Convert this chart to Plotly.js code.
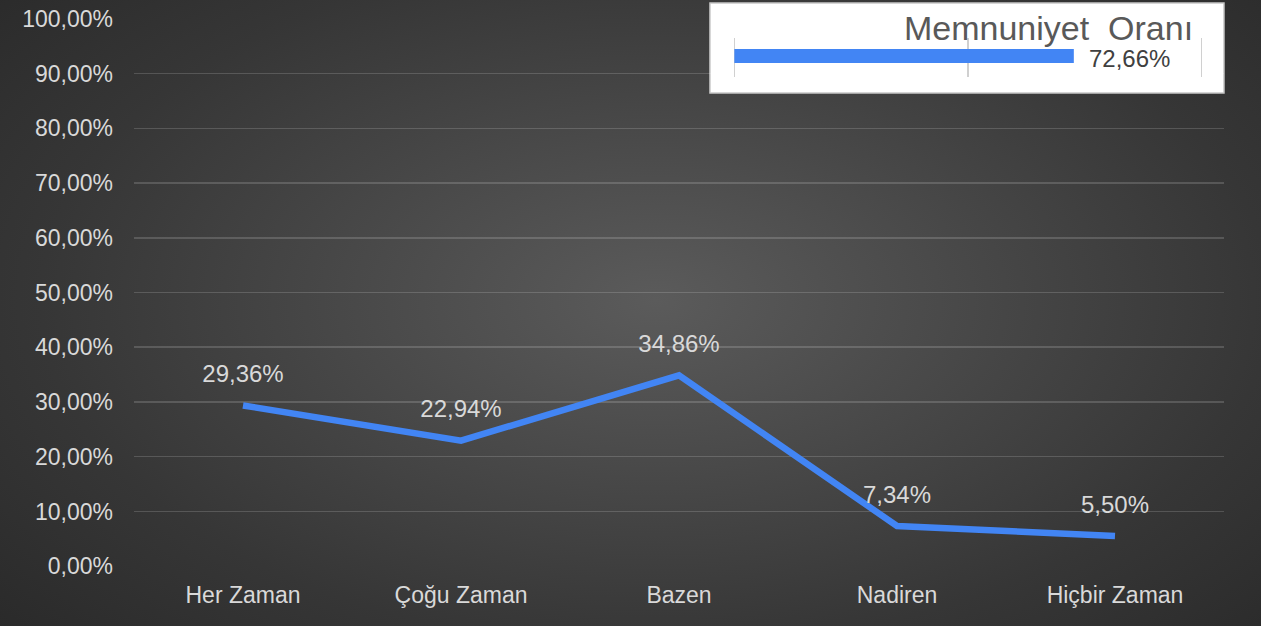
<!DOCTYPE html>
<html>
<head>
<meta charset="utf-8">
<script src="https://cdn.plot.ly/plotly-3.0.1.min.js"></script>
<style>
  html, body { margin: 0; padding: 0; }
  #chart {
    width: 1261px; height: 626px;
    background: radial-gradient(ellipse 75% 85% at 52% 48%, #5b5b5b 0%, #4a4a4a 30%, #363636 65%, #272727 100%);
  }
</style>
</head>
<body>
<div id="chart"></div>
<script>
const categories = ['Her Zaman', 'Çoğu Zaman', 'Bazen', 'Nadiren', 'Hiçbir Zaman'];
const shares = [0.2936, 0.2294, 0.3486, 0.0734, 0.0550];
const satisfactionLabel = 'Memnuniyet Oranı';
const satisfactionValue = 0.7266;

const FONT = '"Liberation Sans", Arial, sans-serif';
const BLUE = '#4285f4';
const TXT = '#d9d9d9';

const fmtPct = v => (v * 100).toFixed(2).replace('.', ',') + '%';

const traces = [
  {
    type: 'scatter',
    mode: 'lines+markers+text',
    x: categories,
    y: shares,
    xaxis: 'x', yaxis: 'y',
    line: { color: BLUE, width: 6.5 },
    marker: { size: 26, color: 'rgba(0,0,0,0)' },
    text: shares.map(fmtPct),
    textposition: 'top center',
    textfont: { family: FONT, size: 24, color: TXT },
    hoverinfo: 'skip',
    showlegend: false,
    cliponaxis: false
  },
  {
    type: 'bar',
    orientation: 'h',
    x: [satisfactionValue],
    y: [0],
    xaxis: 'x2', yaxis: 'y2',
    width: 0.36,
    marker: { color: BLUE },
    hoverinfo: 'skip',
    showlegend: false
  }
];

const layout = {
  width: 1261, height: 626,
  margin: { l: 134, r: 37, t: 18, b: 59 },
  paper_bgcolor: 'rgba(0,0,0,0)',
  plot_bgcolor: 'rgba(0,0,0,0)',
  separators: ',.',
  font: { family: FONT, color: TXT, size: 23 },
  showlegend: false,
  xaxis: {
    type: 'category',
    range: [-0.5, 4.5],
    showgrid: false, zeroline: false, showline: false,
    ticks: '',
    ticklabelstandoff: 12,
    tickfont: { family: FONT, size: 23, color: TXT },
    fixedrange: true
  },
  yaxis: {
    range: [-0.0015, 1.0015],
    tick0: 0,
    dtick: 0.1,
    tickformat: '.2%',
    showgrid: true,
    gridcolor: 'rgba(255,255,255,0.16)',
    gridwidth: 1.5,
    zeroline: false, showline: false,
    ticks: '',
    ticklabelstandoff: 20,
    tickfont: { family: FONT, size: 23, color: TXT },
    fixedrange: true
  },
  xaxis2: {
    domain: [0.5495, 0.9807],
    anchor: 'y2',
    range: [-0.003, 1.003],
    tick0: 0, dtick: 0.5,
    showgrid: true, gridcolor: '#d0d0d0', gridwidth: 1.5,
    zeroline: false, showline: false,
    showticklabels: false, ticks: '',
    fixedrange: true
  },
  yaxis2: {
    domain: [0.8925, 0.9636],
    anchor: 'x2',
    range: [-0.54, 0.46],
    showgrid: false, zeroline: false, showline: false,
    showticklabels: false, ticks: '',
    fixedrange: true
  },
  shapes: [
    {
      type: 'rect', layer: 'below',
      xref: 'x2 domain', yref: 'y2 domain',
      x0: -0.0489, x1: 1.0447, y0: -0.41, y1: 1.897,
      fillcolor: '#ffffff',
      line: { color: '#c8c8c8', width: 1.5 }
    }
  ],
  annotations: [
    {
      xref: 'x2 domain', yref: 'y2 domain',
      x: 0.983, y: 1.25,
      xanchor: 'right', yanchor: 'middle',
      text: satisfactionLabel.replace(' ', '\u00a0\u00a0'),
      showarrow: false,
      font: { family: FONT, size: 34, color: '#595959' }
    },
    {
      xref: 'x2', yref: 'y2',
      x: satisfactionValue, y: 0,
      xanchor: 'left', yanchor: 'middle',
      xshift: 13, yshift: -3,
      text: fmtPct(satisfactionValue),
      showarrow: false,
      font: { family: FONT, size: 24, color: '#404040' }
    }
  ]
};

Plotly.newPlot('chart', traces, layout, { staticPlot: true, displayModeBar: false });
</script>
</body>
</html>
